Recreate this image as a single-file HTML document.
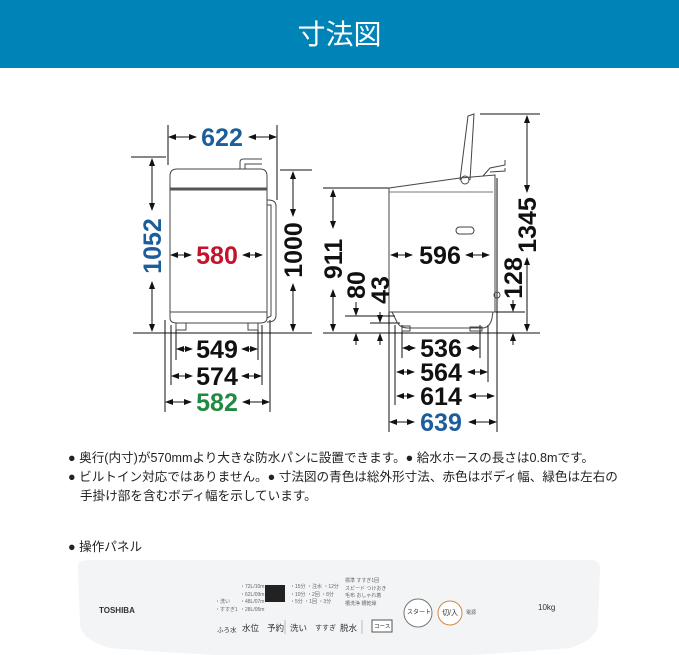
<!DOCTYPE html>
<html><head><meta charset="utf-8"><style>
body{margin:0;width:679px;height:655px;background:#fff;overflow:hidden;font-family:"Liberation Sans","Noto Sans CJK JP",sans-serif;}
.hd{position:absolute;left:0;top:0;width:679px;height:68px;background:#0083b7;color:#fff;font-size:28px;text-align:center;line-height:70px;}
.t{position:absolute;left:68px;font-size:12.6px;color:#222;white-space:nowrap;}
.k{position:absolute;top:622px;font-size:8.5px;color:#333;white-space:nowrap;}
.s{position:absolute;font-size:5px;color:#666;line-height:7.7px;white-space:nowrap;}
</style></head><body>
<div class="hd">寸法図</div>
<svg style="position:absolute;left:0;top:0" width="679" height="655">
<defs><marker id="a" markerWidth="8" markerHeight="8" refX="7" refY="4" orient="auto-start-reverse" markerUnits="userSpaceOnUse"><path d="M0,1 L8,4 L0,7z" fill="#111"/></marker></defs>
<path d="M78,566 Q78,560 90,560 L590,560 Q600,560 600,568 L598,625 Q596,640 570,648 Q340,668 110,648 Q82,640 80,625Z" fill="#f3f4f5"/>
<g stroke="#111" stroke-width="1" fill="none">
<line x1="168" y1="125" x2="168" y2="165"/><line x1="277" y1="125" x2="277" y2="200"/>
<line x1="131" y1="157" x2="166" y2="157"/><line x1="133" y1="333" x2="312" y2="333"/>
<line x1="280" y1="170" x2="312" y2="170"/>
<line x1="176" y1="325" x2="176" y2="360"/><line x1="258" y1="325" x2="258" y2="360"/>
<line x1="171" y1="325" x2="171" y2="385"/><line x1="262" y1="325" x2="262" y2="385"/>
<line x1="165" y1="320" x2="165" y2="412"/><line x1="270" y1="320" x2="270" y2="412"/>
<path d="M170,176 Q170,169 177,169 L260,169 Q267,169 267,176 L267,318 Q267,323 260,323 L177,323 Q170,323 170,318Z" stroke="#444" fill="#fff"/>
<line x1="170" y1="189" x2="267" y2="189" stroke="#555" stroke-width="3"/>
<line x1="170" y1="312" x2="267" y2="312" stroke="#444"/>
<rect x="176" y="323" width="10" height="7" stroke="#444"/><rect x="248" y="323" width="10" height="7" stroke="#444"/>
<path d="M240,169 L240,162 Q240,159 244,159 L262,159 M245,169 L245,164 L262,164" stroke="#444"/>
<path d="M267,200 L268,200 Q276,200 276,206 L276,315 Q276,322 268,322 L267,322 M267,205 L271,205 L271,316 L267,318" stroke="#444"/>
<g marker-start="url(#a)" marker-end="url(#a)">
<line x1="169" y1="137" x2="196" y2="137"/><line x1="249" y1="137" x2="276" y2="137"/>
<line x1="152" y1="159" x2="152" y2="210"/><line x1="152" y1="282" x2="152" y2="331"/>
<line x1="293" y1="172" x2="293" y2="216"/><line x1="293" y1="284" x2="293" y2="331"/>
<line x1="171" y1="255" x2="191" y2="255"/><line x1="243" y1="255" x2="262" y2="255"/>
<line x1="177" y1="349" x2="192" y2="349"/><line x1="242" y1="349" x2="257" y2="349"/>
<line x1="172" y1="376" x2="192" y2="376"/><line x1="242" y1="376" x2="261" y2="376"/>
<line x1="166" y1="402" x2="191" y2="402"/><line x1="243" y1="402" x2="269" y2="402"/>
</g>
<line x1="323" y1="188" x2="390" y2="188"/><line x1="323" y1="333" x2="540" y2="333"/>
<line x1="345" y1="316" x2="395" y2="316"/><line x1="370" y1="323" x2="400" y2="323"/>
<line x1="480" y1="114" x2="540" y2="114"/><line x1="495" y1="312" x2="525" y2="312"/>
<line x1="389" y1="190" x2="389" y2="432"/><line x1="497" y1="178" x2="497" y2="432"/>
<line x1="395" y1="325" x2="395" y2="405"/><line x1="402" y1="325" x2="402" y2="358"/>
<line x1="480" y1="325" x2="480" y2="358"/><line x1="488" y1="325" x2="488" y2="382"/>
<path d="M389,188 L460,178 L495,175 L495,312 L389,312Z" stroke="#444" fill="#fff"/>
<line x1="389" y1="192" x2="493" y2="192" stroke="#777"/>
<path d="M392,312 L397,322 Q400,328 408,328 L482,328 Q490,328 492,318 L493,312" stroke="#444"/>
<rect x="402" y="326" width="8" height="5" stroke="#444"/><rect x="470" y="327" width="12" height="4" stroke="#444"/>
<rect x="456" y="227" width="18" height="7" rx="3.5" stroke="#444"/>
<path d="M460,180 L468,116 L474,114 L470,180" stroke="#444"/><circle cx="465" cy="180" r="4" stroke="#444"/>
<path d="M483,176 L490,168 L505,165 L505,160 M490,172 L505,171 L505,168" stroke="#444"/>
<circle cx="497" cy="295" r="3" stroke="#444"/>
<g marker-start="url(#a)" marker-end="url(#a)">
<line x1="333" y1="190" x2="333" y2="228"/><line x1="333" y1="290" x2="333" y2="331"/>
<line x1="527" y1="116" x2="527" y2="192"/><line x1="527" y1="258" x2="527" y2="331"/>
<line x1="391" y1="255" x2="412" y2="255"/><line x1="466" y1="255" x2="489" y2="255"/>
<line x1="403" y1="348" x2="415" y2="348"/><line x1="467" y1="348" x2="479" y2="348"/>
<line x1="397" y1="372" x2="414" y2="372"/><line x1="468" y1="372" x2="487" y2="372"/>
<line x1="397" y1="396" x2="414" y2="396"/><line x1="469" y1="396" x2="494" y2="396"/>
<line x1="390" y1="422" x2="414" y2="422"/><line x1="469" y1="422" x2="496" y2="422"/>
</g>
<g marker-end="url(#a)">
<line x1="356" y1="302" x2="356" y2="315"/><line x1="356" y1="345" x2="356" y2="334"/>
<line x1="380" y1="312" x2="380" y2="322"/><line x1="380" y1="345" x2="380" y2="334"/>
<line x1="513" y1="300" x2="513" y2="311"/><line x1="513" y1="345" x2="513" y2="334"/>
</g>
</g>
<g font-family="Liberation Sans, sans-serif" font-weight="bold" font-size="25" text-anchor="middle" fill="#111">
<text x="222" y="146" fill="#1c5d9c">622</text>
<text x="217" y="264" fill="#c3122a">580</text>
<text x="217" y="358">549</text>
<text x="217" y="385">574</text>
<text x="217" y="411" fill="#1f8a40">582</text>
<text transform="translate(161,246) rotate(-90)" fill="#1c5d9c">1052</text>
<text transform="translate(302,250) rotate(-90)">1000</text>
<text transform="translate(342,259) rotate(-90)">911</text>
<text transform="translate(365,285) rotate(-90)">80</text>
<text transform="translate(389,290) rotate(-90)">43</text>
<text transform="translate(522,278) rotate(-90)">128</text>
<text transform="translate(536,225) rotate(-90)">1345</text>
<text x="440" y="264">596</text>
<text x="441" y="357">536</text>
<text x="441" y="381">564</text>
<text x="441" y="405">614</text>
<text x="441" y="431" fill="#1c5d9c">639</text>
</g>
<circle cx="418" cy="613" r="14" fill="#fff" stroke="#777"/><circle cx="450" cy="613" r="12" fill="#fff" stroke="#d08a40"/>
<rect x="372" y="620" width="20" height="12" fill="#fff" stroke="#555"/>
<rect x="265" y="585" width="20" height="17" fill="#222"/>
<line x1="285" y1="620" x2="285" y2="634" stroke="#bbb"/><line x1="362" y1="620" x2="362" y2="634" stroke="#bbb"/>
</svg>
<div class="t" style="top:447px">● 奥行(内寸)が570mmより大きな防水パンに設置できます。● 給水ホースの長さは0.8mです。</div>
<div class="t" style="top:466px">● ビルトイン対応ではありません。● 寸法図の青色は総外形寸法、赤色はボディ幅、緑色は左右の</div>
<div class="t" style="top:485px;left:80px">手掛け部を含むボディ幅を示しています。</div>
<div class="t" style="top:536px">● 操作パネル</div>
<div style="position:absolute;left:99px;top:606px;font-size:8px;font-weight:bold;color:#333">TOSHIBA</div>
<div class="k" style="left:217px;font-size:6.5px;top:624px">ふろ水</div>
<div class="k" style="left:242px">水位</div>
<div class="k" style="left:267px">予約</div>
<div class="k" style="left:290px">洗い</div>
<div class="k" style="left:315px;font-size:7px;top:623px">すすぎ</div>
<div class="k" style="left:340px">脱水</div>
<div class="k" style="left:374px;top:622px;font-size:5.5px">コース</div>
<div style="position:absolute;left:407px;top:607px;font-size:6px;color:#333">スタート</div>
<div style="position:absolute;left:442px;top:608px;font-size:7px;color:#333">切/入</div>
<div style="position:absolute;left:466px;top:609px;font-size:5px;color:#555">電源</div>
<div style="position:absolute;left:538px;top:603px;font-size:8px;color:#333">10kg</div>
<div class="s" style="left:240px;top:584px">・72L/10m<br>・62L/09m<br>・48L/07m<br>・28L/05m</div>
<div class="s" style="left:215px;top:599px">・洗い<br>・すすぎ1</div>
<div class="s" style="left:290px;top:584px">・15分 ・注水 ・12分<br>・10分 ・2回 ・8分<br>・5分 ・1回 ・3分</div>
<div class="s" style="left:345px;top:578px">標準 すすぎ1回<br>スピード つけおき<br>毛布 おしゃれ着<br>槽洗浄 槽乾燥</div>
</body></html>
